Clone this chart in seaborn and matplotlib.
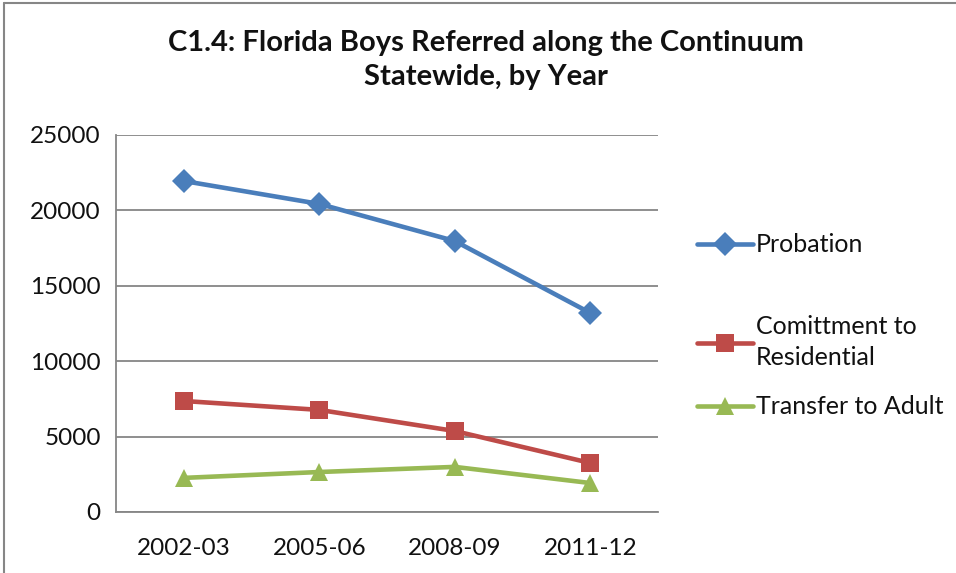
import pandas as pd
import matplotlib
matplotlib.use('Agg')
import matplotlib.pyplot as plt
from matplotlib.lines import Line2D
import seaborn as sns

# Chart values
years = ['2002-03', '2005-06', '2008-09', '2011-12']
probation = [21950, 20430, 17970, 13200]
commitment = [7360, 6770, 5370, 3250]
transfer = [2260, 2650, 2990, 1920]
series_names = ['Probation', 'Comittment to\nResidential', 'Transfer to Adult']

colors = ['#4A7EBB', '#BE4B48', '#98B954']
markers = ['D', 's', '^']

df = pd.DataFrame({
    'Year': years * 3,
    'Count': probation + commitment + transfer,
    'Series': [series_names[0]] * 4 + [series_names[1]] * 4 + [series_names[2]] * 4,
})

sns.set_style('white')
plt.rcParams['font.family'] = ['Lato', 'DejaVu Sans']

fig = plt.figure(figsize=(9.56, 5.73), dpi=100)
ax = fig.add_axes([0.1213, 0.1065, 0.5670, 0.6579])

sns.lineplot(data=df, x='Year', y='Count', hue='Series', style='Series',
             palette=colors, markers=markers, dashes=False, sort=False,
             linewidth=3.3, markersize=12.5, markeredgewidth=0, ax=ax, legend=False)

ax.set_xlim(-0.5, 3.5)
ax.set_ylim(0, 25000)
ax.set_yticks(range(0, 25001, 5000))
ax.yaxis.grid(True, color='#868686', linewidth=1.3)
ax.set_axisbelow(True)
ax.set_xlabel('')
ax.set_ylabel('')
ax.tick_params(axis='both', labelsize=17.5, length=0, colors='#111111')
ax.tick_params(axis='x', pad=19)
ax.tick_params(axis='y', pad=11)
for side in ['top', 'right']:
    ax.spines[side].set_visible(False)
for side in ['left', 'bottom']:
    ax.spines[side].set_color('#868686')
    ax.spines[side].set_linewidth(1.3)

fig.text(0.508, 0.895, 'C1.4: Florida Boys Referred along the Continuum\nStatewide, by Year',
         ha='center', va='center', fontsize=21, fontweight='bold', linespacing=1.36,
         color='#111111')

# legend entries placed one by one (Excel spaces them unevenly)
legend_y = [1 - 245 / 573, 1 - 342 / 573, 1 - 407 / 573]
for c, m, name, ly in zip(colors, markers, series_names, legend_y):
    h = Line2D([], [], color=c, marker=m, linewidth=3.3, markersize=12.5,
               markeredgewidth=0)
    leg = fig.legend([h], [name], loc='center left', bbox_to_anchor=(0.729, ly),
                     frameon=False, fontsize=18, handlelength=2.25, handletextpad=0.12,
                     borderpad=0, borderaxespad=0)
    for t in leg.get_texts():
        t.set_linespacing(1.42)
        t.set_color('#111111')

# outer chart border (left and top edges)
fig.add_artist(Line2D([0.004, 0.004], [0, 0.995], transform=fig.transFigure,
                      color='#868686', linewidth=1.5))
fig.add_artist(Line2D([0.004, 1], [0.995, 0.995], transform=fig.transFigure,
                      color='#868686', linewidth=1.5))

fig.savefig('out.png', dpi=100)
